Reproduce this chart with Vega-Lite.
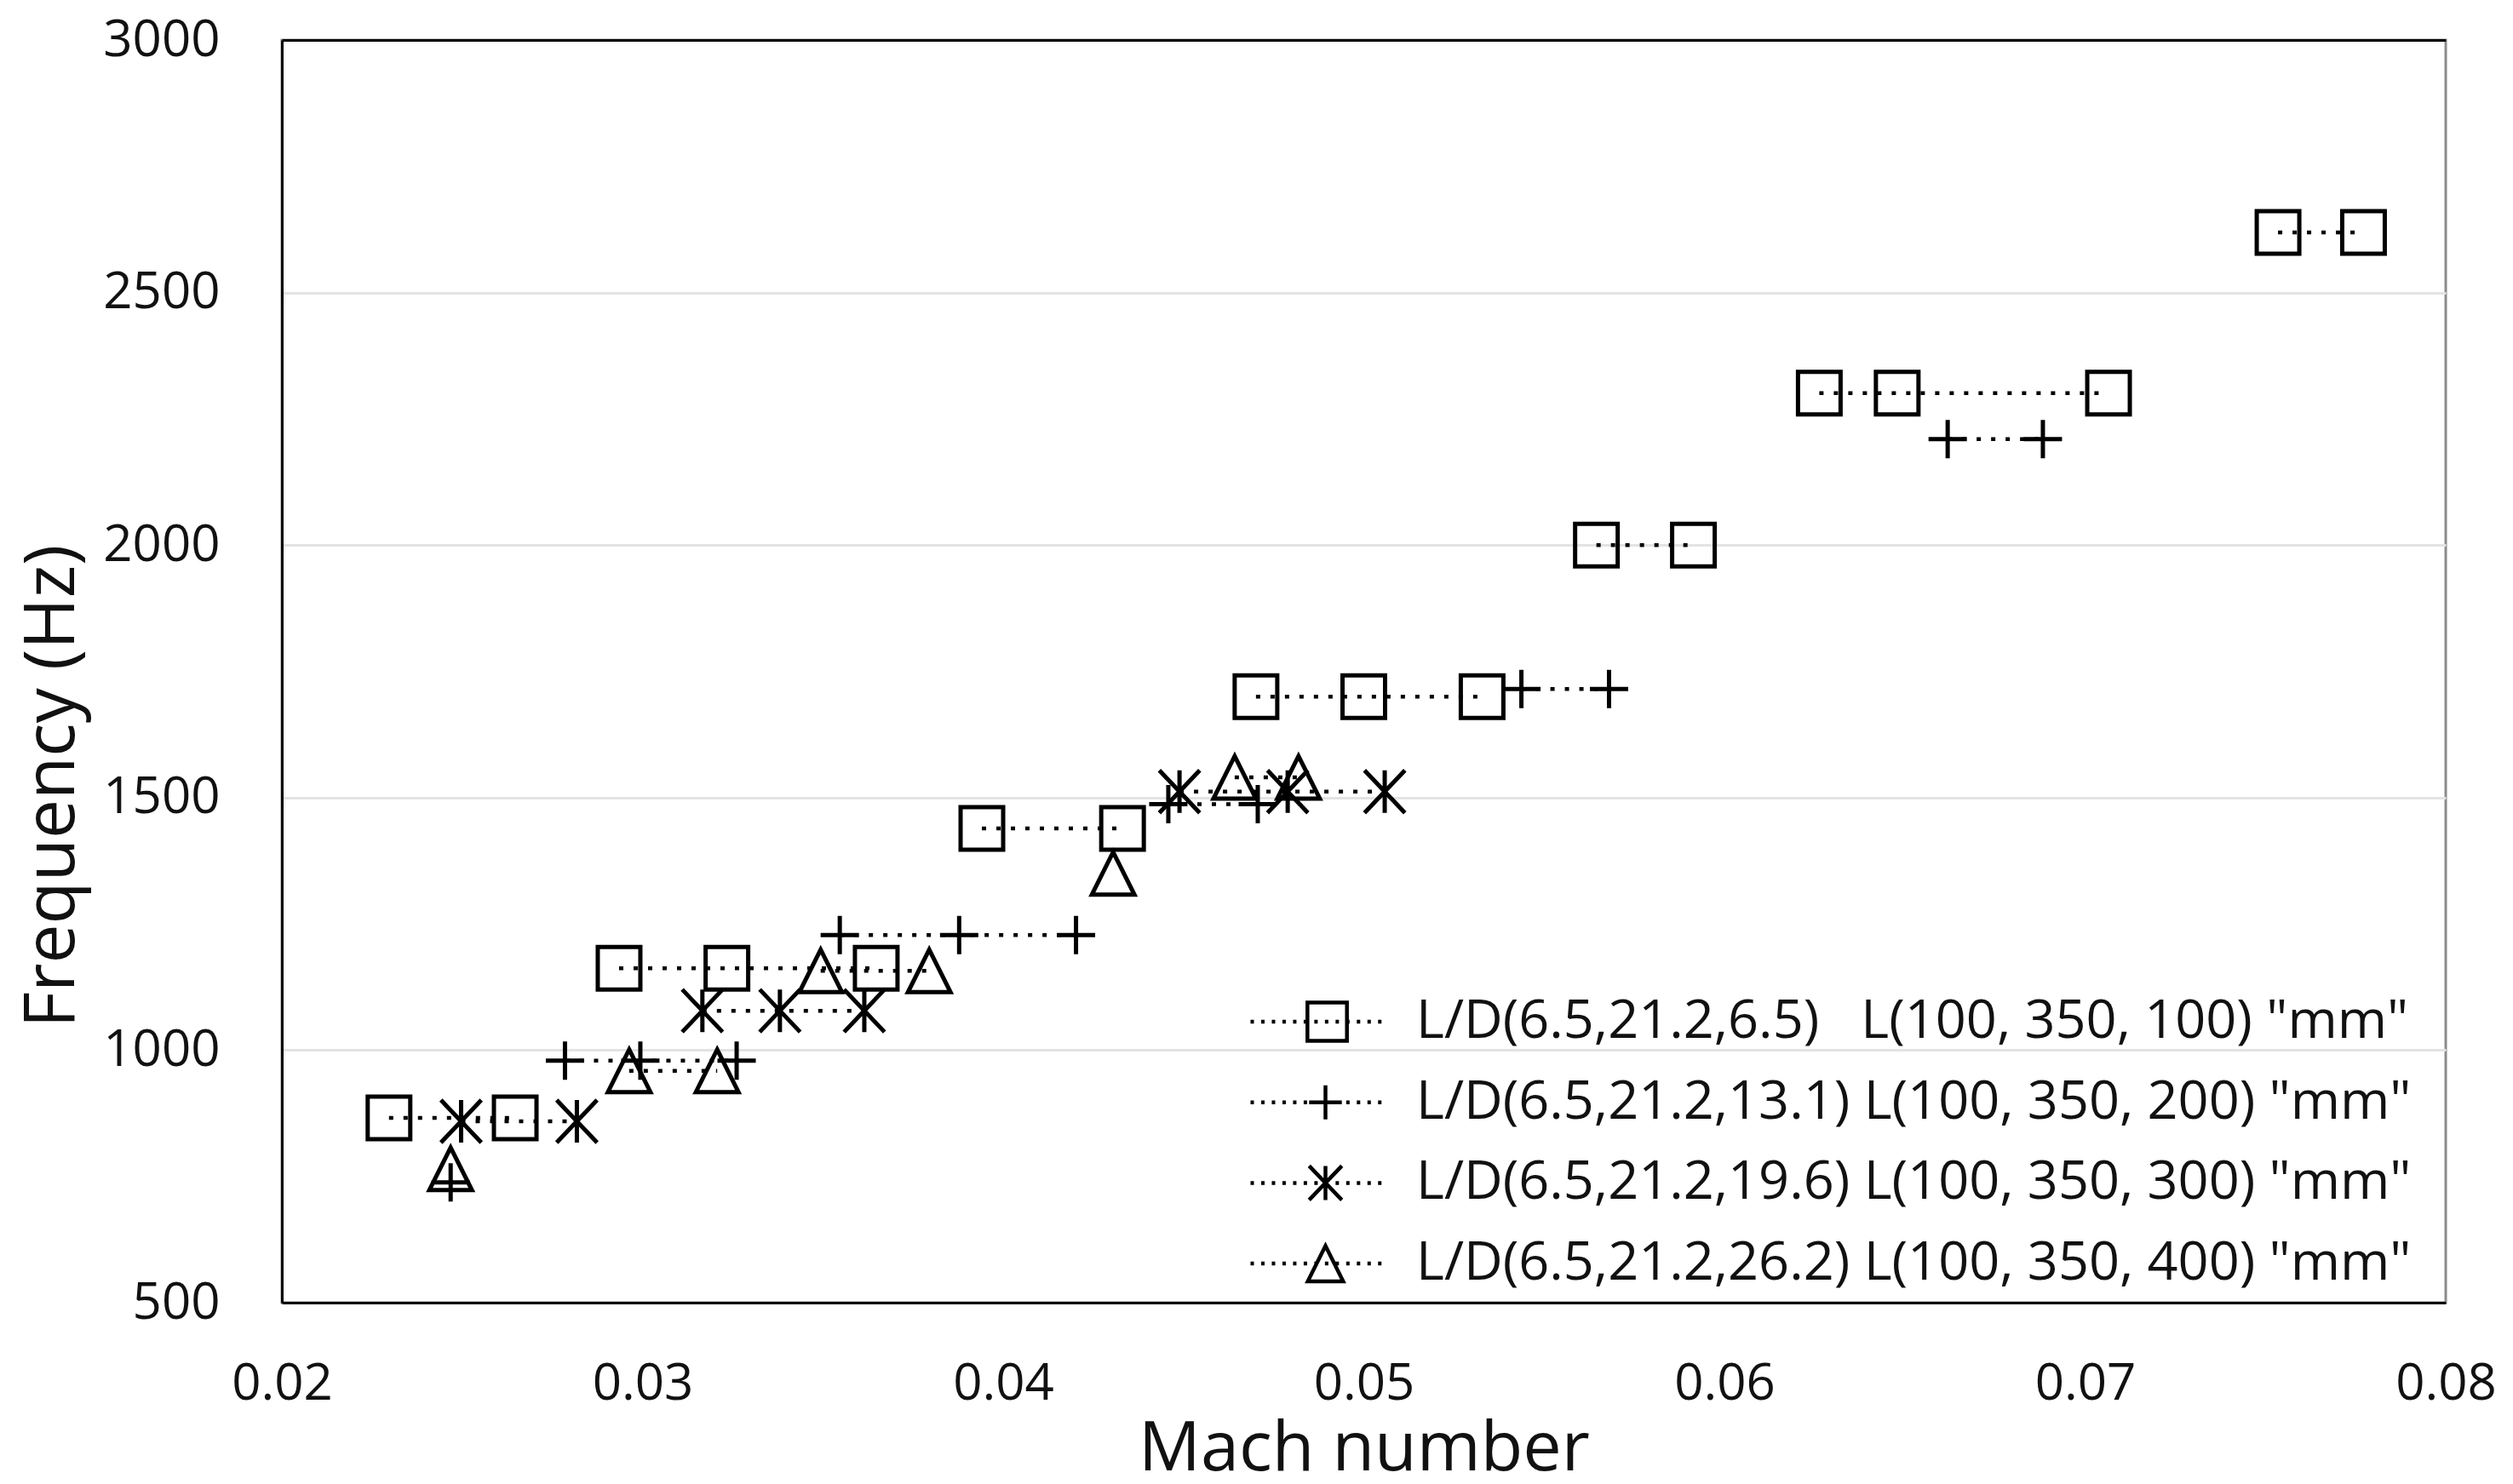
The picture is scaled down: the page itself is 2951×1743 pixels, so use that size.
{
  "$schema": "https://vega.github.io/schema/vega-lite/v6.json",
  "width": 2541,
  "height": 1483,
  "autosize": {"type": "none"},
  "padding": {"left": 331, "top": 47, "right": 79, "bottom": 213},
  "background": "white",
  "config": {
    "font": "Open Sans",
    "view": {"stroke": "#8c8c8c", "strokeWidth": 3},
    "axis": {"labelFont": "Open Sans", "titleFont": "Open Sans", "labelColor": "#111", "titleColor": "#111", "titleFontWeight": "normal"}
  },
  "datasets": {
    "pts": [
      {"series": "L/D(6.5,21.2,6.5)\u00a0\u00a0 L(100, 350, 100) \"mm\"", "group": "s1a", "mach": 0.02297, "freq": 866},
      {"series": "L/D(6.5,21.2,6.5)\u00a0\u00a0 L(100, 350, 100) \"mm\"", "group": "s1a", "mach": 0.02647, "freq": 866},
      {"series": "L/D(6.5,21.2,6.5)\u00a0\u00a0 L(100, 350, 100) \"mm\"", "group": "s1b", "mach": 0.02935, "freq": 1162},
      {"series": "L/D(6.5,21.2,6.5)\u00a0\u00a0 L(100, 350, 100) \"mm\"", "group": "s1b", "mach": 0.03234, "freq": 1162},
      {"series": "L/D(6.5,21.2,6.5)\u00a0\u00a0 L(100, 350, 100) \"mm\"", "group": "s1b", "mach": 0.03648, "freq": 1162},
      {"series": "L/D(6.5,21.2,6.5)\u00a0\u00a0 L(100, 350, 100) \"mm\"", "group": "s1c", "mach": 0.03941, "freq": 1439},
      {"series": "L/D(6.5,21.2,6.5)\u00a0\u00a0 L(100, 350, 100) \"mm\"", "group": "s1c", "mach": 0.04331, "freq": 1439},
      {"series": "L/D(6.5,21.2,6.5)\u00a0\u00a0 L(100, 350, 100) \"mm\"", "group": "s1d", "mach": 0.04701, "freq": 1700},
      {"series": "L/D(6.5,21.2,6.5)\u00a0\u00a0 L(100, 350, 100) \"mm\"", "group": "s1d", "mach": 0.05, "freq": 1700},
      {"series": "L/D(6.5,21.2,6.5)\u00a0\u00a0 L(100, 350, 100) \"mm\"", "group": "s1d", "mach": 0.05328, "freq": 1700},
      {"series": "L/D(6.5,21.2,6.5)\u00a0\u00a0 L(100, 350, 100) \"mm\"", "group": "s1e", "mach": 0.05645, "freq": 2000},
      {"series": "L/D(6.5,21.2,6.5)\u00a0\u00a0 L(100, 350, 100) \"mm\"", "group": "s1e", "mach": 0.05914, "freq": 2000},
      {"series": "L/D(6.5,21.2,6.5)\u00a0\u00a0 L(100, 350, 100) \"mm\"", "group": "s1f", "mach": 0.06263, "freq": 2301},
      {"series": "L/D(6.5,21.2,6.5)\u00a0\u00a0 L(100, 350, 100) \"mm\"", "group": "s1f", "mach": 0.06479, "freq": 2301},
      {"series": "L/D(6.5,21.2,6.5)\u00a0\u00a0 L(100, 350, 100) \"mm\"", "group": "s1f", "mach": 0.07065, "freq": 2301},
      {"series": "L/D(6.5,21.2,6.5)\u00a0\u00a0 L(100, 350, 100) \"mm\"", "group": "s1g", "mach": 0.07535, "freq": 2619},
      {"series": "L/D(6.5,21.2,6.5)\u00a0\u00a0 L(100, 350, 100) \"mm\"", "group": "s1g", "mach": 0.07772, "freq": 2619},
      {"series": "L/D(6.5,21.2,13.1) L(100, 350, 200) \"mm\"", "group": "s2a", "mach": 0.02468, "freq": 738},
      {"series": "L/D(6.5,21.2,13.1) L(100, 350, 200) \"mm\"", "group": "s2b", "mach": 0.02785, "freq": 979},
      {"series": "L/D(6.5,21.2,13.1) L(100, 350, 200) \"mm\"", "group": "s2b", "mach": 0.02994, "freq": 979},
      {"series": "L/D(6.5,21.2,13.1) L(100, 350, 200) \"mm\"", "group": "s2b", "mach": 0.03261, "freq": 979},
      {"series": "L/D(6.5,21.2,13.1) L(100, 350, 200) \"mm\"", "group": "s2c", "mach": 0.03547, "freq": 1228},
      {"series": "L/D(6.5,21.2,13.1) L(100, 350, 200) \"mm\"", "group": "s2c", "mach": 0.03878, "freq": 1228},
      {"series": "L/D(6.5,21.2,13.1) L(100, 350, 200) \"mm\"", "group": "s2c", "mach": 0.04202, "freq": 1228},
      {"series": "L/D(6.5,21.2,13.1) L(100, 350, 200) \"mm\"", "group": "s2d", "mach": 0.04458, "freq": 1487},
      {"series": "L/D(6.5,21.2,13.1) L(100, 350, 200) \"mm\"", "group": "s2d", "mach": 0.04706, "freq": 1487},
      {"series": "L/D(6.5,21.2,13.1) L(100, 350, 200) \"mm\"", "group": "s2e", "mach": 0.05437, "freq": 1715},
      {"series": "L/D(6.5,21.2,13.1) L(100, 350, 200) \"mm\"", "group": "s2e", "mach": 0.0568, "freq": 1715},
      {"series": "L/D(6.5,21.2,13.1) L(100, 350, 200) \"mm\"", "group": "s2f", "mach": 0.06619, "freq": 2210},
      {"series": "L/D(6.5,21.2,13.1) L(100, 350, 200) \"mm\"", "group": "s2f", "mach": 0.06883, "freq": 2210},
      {"series": "L/D(6.5,21.2,19.6) L(100, 350, 300) \"mm\"", "group": "s3a", "mach": 0.02497, "freq": 859},
      {"series": "L/D(6.5,21.2,19.6) L(100, 350, 300) \"mm\"", "group": "s3a", "mach": 0.02818, "freq": 859},
      {"series": "L/D(6.5,21.2,19.6) L(100, 350, 300) \"mm\"", "group": "s3b", "mach": 0.03166, "freq": 1078},
      {"series": "L/D(6.5,21.2,19.6) L(100, 350, 300) \"mm\"", "group": "s3b", "mach": 0.03381, "freq": 1078},
      {"series": "L/D(6.5,21.2,19.6) L(100, 350, 300) \"mm\"", "group": "s3b", "mach": 0.03615, "freq": 1078},
      {"series": "L/D(6.5,21.2,19.6) L(100, 350, 300) \"mm\"", "group": "s3c", "mach": 0.04489, "freq": 1512},
      {"series": "L/D(6.5,21.2,19.6) L(100, 350, 300) \"mm\"", "group": "s3c", "mach": 0.04789, "freq": 1512},
      {"series": "L/D(6.5,21.2,19.6) L(100, 350, 300) \"mm\"", "group": "s3c", "mach": 0.05058, "freq": 1512},
      {"series": "L/D(6.5,21.2,26.2) L(100, 350, 400) \"mm\"", "group": "s4a", "mach": 0.02468, "freq": 765},
      {"series": "L/D(6.5,21.2,26.2) L(100, 350, 400) \"mm\"", "group": "s4b", "mach": 0.02963, "freq": 959},
      {"series": "L/D(6.5,21.2,26.2) L(100, 350, 400) \"mm\"", "group": "s4b", "mach": 0.03207, "freq": 959},
      {"series": "L/D(6.5,21.2,26.2) L(100, 350, 400) \"mm\"", "group": "s4c", "mach": 0.03494, "freq": 1157},
      {"series": "L/D(6.5,21.2,26.2) L(100, 350, 400) \"mm\"", "group": "s4c", "mach": 0.03795, "freq": 1157},
      {"series": "L/D(6.5,21.2,26.2) L(100, 350, 400) \"mm\"", "group": "s4d", "mach": 0.04305, "freq": 1350},
      {"series": "L/D(6.5,21.2,26.2) L(100, 350, 400) \"mm\"", "group": "s4e", "mach": 0.04642, "freq": 1540},
      {"series": "L/D(6.5,21.2,26.2) L(100, 350, 400) \"mm\"", "group": "s4e", "mach": 0.04819, "freq": 1540}
    ]
  },
  "data": {"name": "pts"},
  "encoding": {
    "y": {
      "field": "freq", "type": "quantitative",
      "scale": {"domain": [500, 3000], "nice": false, "zero": false},
      "axis": {
        "title": "Frequency (Hz)", "titleFontSize": 82, "titleX": -245, "titleY": 876, "titleBaseline": "alphabetic", "titleAngle": -90,
        "values": [500, 1000, 1500, 2000, 2500, 3000], "format": "d",
        "labelFontSize": 60, "labelPadding": 73, "labelFlush": false, "labelOverlap": false,
        "ticks": false, "domain": true, "domainColor": "#000", "domainWidth": 3,
        "grid": true, "gridColor": "#e3e3e3", "gridWidth": 3
      }
    }
  },
  "layer": [
    {
      "mark": {"type": "line", "color": "#000", "strokeWidth": 4.5, "strokeDash": [5, 12], "strokeCap": "butt"},
      "encoding": {
        "x": {
          "field": "mach", "type": "quantitative",
          "scale": {"domain": [0.02, 0.08], "nice": false, "zero": false},
          "axis": {"orient": "top", "labels": false, "ticks": false, "grid": false, "title": null, "domain": true, "domainColor": "#000", "domainWidth": 3}
        },
        "detail": {"field": "group", "type": "nominal"}
      }
    },
    {
      "mark": {"type": "point", "filled": false, "color": "#000", "strokeWidth": 5, "size": 2500, "opacity": 1},
      "encoding": {
        "x": {
          "field": "mach", "type": "quantitative",
          "scale": {"domain": [0.02, 0.08], "nice": false, "zero": false},
          "axis": {
            "orient": "bottom", "title": "Mach number", "titleFontSize": 81, "titleY": 196, "titleBaseline": "alphabetic",
            "values": [0.02, 0.03, 0.04, 0.05, 0.06, 0.07, 0.08], "format": ".2f",
            "labelFontSize": 60, "labelPadding": 66, "labelFlush": false, "labelOverlap": false,
            "ticks": false, "grid": false, "domain": true, "domainColor": "#000", "domainWidth": 3
          }
        },
        "shape": {
          "field": "series", "type": "nominal",
          "scale": {
            "domain": [
              "L/D(6.5,21.2,6.5)\u00a0\u00a0 L(100, 350, 100) \"mm\"",
              "L/D(6.5,21.2,13.1) L(100, 350, 200) \"mm\"",
              "L/D(6.5,21.2,19.6) L(100, 350, 300) \"mm\"",
              "L/D(6.5,21.2,26.2) L(100, 350, 400) \"mm\""
            ],
            "range": [
              "M-1,-1L1,-1L1,1L-1,1Z",
              "M-0.9,0L0.9,0M0,-0.9L0,0.9",
              "M-0.95,-1L0.95,1M-0.95,1L0.95,-1M0,-1L0,1",
              "M0,-1L1,1L-1,1Z"
            ]
          },
          "legend": null
        }
      }
    },
    {
      "transform": [{"filter": "false"}],
      "mark": {"type": "point", "filled": false, "color": "#000", "strokeWidth": 4.5, "opacity": 1},
      "encoding": {
        "x": {"field": "mach", "type": "quantitative", "scale": {"domain": [0.02, 0.08], "nice": false, "zero": false}, "axis": null},
        "shape": {
          "field": "series", "type": "nominal",
          "scale": {
            "domain": [
              "L/D(6.5,21.2,6.5)\u00a0\u00a0 L(100, 350, 100) \"mm\"",
              "L/D(6.5,21.2,13.1) L(100, 350, 200) \"mm\"",
              "L/D(6.5,21.2,19.6) L(100, 350, 300) \"mm\"",
              "L/D(6.5,21.2,26.2) L(100, 350, 400) \"mm\""
            ],
            "range": [
              "M-1,0L-0.95,0M-0.844,0L-0.794,0M-0.688,0L-0.638,0M-0.532,0L-0.482,0M-0.376,0L-0.326,0M-0.22,0L-0.17,0M-0.064,0L-0.014,0M0.092,0L0.142,0M0.248,0L0.298,0M0.404,0L0.454,0M0.56,0L0.61,0M0.716,0L0.766,0M0.872,0L0.922,0M-0.165,-0.28L0.415,-0.28L0.415,0.28L-0.165,0.28Z",
              "M-1,0L-0.95,0M-0.844,0L-0.794,0M-0.688,0L-0.638,0M-0.532,0L-0.482,0M-0.376,0L-0.326,0M-0.22,0L-0.17,0M-0.064,0L-0.014,0M0.092,0L0.142,0M0.248,0L0.298,0M0.404,0L0.454,0M0.56,0L0.61,0M0.716,0L0.766,0M0.872,0L0.922,0M-0.14,0L0.34,0M0.1,-0.25L0.1,0.25",
              "M-1,0L-0.95,0M-0.844,0L-0.794,0M-0.688,0L-0.638,0M-0.532,0L-0.482,0M-0.376,0L-0.326,0M-0.22,0L-0.17,0M-0.064,0L-0.014,0M0.092,0L0.142,0M0.248,0L0.298,0M0.404,0L0.454,0M0.56,0L0.61,0M0.716,0L0.766,0M0.872,0L0.922,0M-0.14,-0.25L0.34,0.25M-0.14,0.25L0.34,-0.25M0.1,-0.25L0.1,0.25",
              "M-1,0L-0.95,0M-0.844,0L-0.794,0M-0.688,0L-0.638,0M-0.532,0L-0.482,0M-0.376,0L-0.326,0M-0.22,0L-0.17,0M-0.064,0L-0.014,0M0.092,0L0.142,0M0.248,0L0.298,0M0.404,0L0.454,0M0.56,0L0.61,0M0.716,0L0.766,0M0.872,0L0.922,0M0.1,-0.26L0.36,0.26L-0.16,0.26Z"
            ]
          },
          "legend": {
            "title": null, "orient": "none", "legendX": 1135, "legendY": 1122, "padding": 0,
            "symbolSize": 25600, "symbolStrokeWidth": 4.5, "symbolStrokeColor": "#000", "symbolFillColor": "transparent", "symbolOpacity": 1,
            "labelFont": "Open Sans", "labelFontSize": 63, "labelColor": "#111", "labelOffset": 32, "labelLimit": 0,
            "clipHeight": 62, "rowPadding": 31.7
          }
        }
      }
    }
  ],
  "resolve": {"axis": {"x": "independent"}, "scale": {"shape": "independent"}, "legend": {"shape": "independent"}}
}
